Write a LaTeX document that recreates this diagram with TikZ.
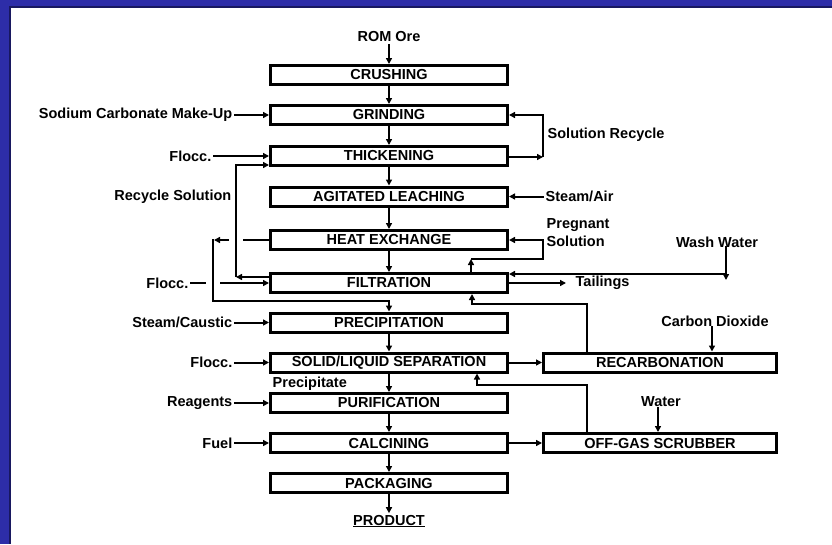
\documentclass[tikz,border=0pt]{standalone}
\usepackage{fontspec}
\setmainfont{Liberation Sans}
\usetikzlibrary{arrows.meta}
\definecolor{frameblue}{RGB}{45,45,168}
\definecolor{framedark}{RGB}{24,24,96}
\begin{document}
\begin{tikzpicture}[x=1pt,y=-1pt,
    stepbox/.style={draw,line width=3pt,minimum width=237pt,minimum height=19pt,inner sep=0pt,font=\fontsize{14.5}{16}\selectfont\bfseries},
    lbl/.style={inner sep=1.5pt,font=\fontsize{14.5}{18}\selectfont\bfseries},
    flow/.style={line width=2pt,-{Triangle[length=6pt,width=6pt]}},
    pipe/.style={line width=2pt}]
      \useasboundingbox (0,0) rectangle (832,544);
      \fill[frameblue] (0,0) rectangle (832,8); \fill[frameblue] (0,0) rectangle (11,544);
      \fill[framedark] (9,6) rectangle (832,8); \fill[framedark] (9,6) rectangle (11,544);

      \node[lbl] (rom) at (389,37) {ROM Ore};
      \node[stepbox] (crush) at (389,75) {CRUSHING};
      \node[stepbox] (grind) at (389,115) {GRINDING};
      \node[stepbox] (thick) at (389,156) {THICKENING};
      \node[stepbox] (leach) at (389,196.5) {AGITATED LEACHING};
      \node[stepbox] (heat) at (389,240) {HEAT EXCHANGE};
      \node[stepbox] (filt) at (389,283) {FILTRATION};
      \node[stepbox] (precip) at (389,322.5) {PRECIPITATION};
      \node[stepbox] (sep) at (389,362.5) {SOLID/LIQUID SEPARATION};
      \node[stepbox] (purif) at (389,403) {PURIFICATION};
      \node[stepbox] (calc) at (389,443) {CALCINING};
      \node[stepbox] (pack) at (389,483) {PACKAGING};
      \node[lbl] (product) at (389,521) {\underline{PRODUCT}};
      \node[stepbox,minimum width=233pt] (recarb) at (660,362.5) {RECARBONATION};
      \node[stepbox,minimum width=233pt] (scrub) at (660,443) {OFF-GAS SCRUBBER};

      \foreach \a/\b in {rom/crush,crush/grind,grind/thick,thick/leach,leach/heat,heat/filt,precip/sep,sep/purif,purif/calc,calc/pack,pack/product}
        \draw[flow] (\a) -- (\b);

      % feeds from the left
      \node[lbl,anchor=east] (soda) at (234,115) {Sodium Carbonate Make-Up};
      \node[lbl,anchor=east] (flocca) at (213,156) {Flocc.};
      \node[lbl,anchor=east] (recsol) at (233,197) {Recycle Solution};
      \node[lbl,anchor=east] (floccb) at (190,283) {Flocc.};
      \node[lbl,anchor=east] (caustic) at (234,322.5) {Steam/Caustic};
      \node[lbl,anchor=east] (floccc) at (234,362.5) {Flocc.};
      \node[lbl,anchor=west] (ppt) at (271,384) {Precipitate};
      \node[lbl,anchor=east] (reagents) at (234,403) {Reagents};
      \node[lbl,anchor=east] (fuel) at (234,443) {Fuel};
      \foreach \a/\b in {soda/grind,flocca/thick,caustic/precip,floccc/sep,reagents/purif,fuel/calc}
        \draw[flow] (\a) -- (\b);
      \draw[pipe] (floccb.east) -- (206,283);
      \draw[flow] (220,283) -- (filt.west);

      \coordinate (rl1) at (236,277); \coordinate (rl2) at (236,165);
      \draw[flow] (filt.west |- rl1) -- (rl1);
      \draw[flow] (rl1) -- (rl2) -- (thick.west |- rl2);

      \coordinate (hl1) at (214,240); \coordinate (hl2) at (213,301);
      \draw[pipe] (heat.west) -- (243,240);
      \draw[flow] (229,240) -- (hl1);
      \draw[flow] (213,239) -- (hl2) -- (precip.north |- hl2) -- (precip.north);

      % feeds from the right
      \node[lbl,anchor=west] (solrec) at (546,135) {Solution Recycle};
      \coordinate (sr1) at (543,157); \coordinate (sr2) at (543,115);
      \draw[flow] (thick.east |- sr1) -- (sr1);
      \draw[flow] (sr1) -- (sr2) -- (grind.east);

      \node[lbl,anchor=west] (steam) at (544,196.5) {Steam/Air};
      \draw[flow] (steam) -- (leach);

      \node[lbl,anchor=west,align=left] (preg) at (545,233) {Pregnant\\Solution};
      \coordinate (pg1) at (471,259); \coordinate (pg2) at (543,259);
      \draw[flow] (filt.north -| pg1) -- (pg1);
      \draw[flow] (pg1) -- (pg2) -- (heat.east -| pg2) -- (heat.east);

      \node[lbl] (wash) at (717,242) {Wash Water};
      \coordinate (ww1) at (726,274);
      \draw[flow] ([yshift=3pt]wash.south -| ww1) -- ([yshift=-6pt]ww1);
      \draw[flow] (ww1) -- (filt.east |- ww1);

      \node[lbl,anchor=west] (tail) at (574,283) {Tailings};
      \draw[flow,shorten >=8pt] (filt) -- (tail);

      \node[lbl] (co2) at (715,321) {Carbon Dioxide};
      \draw[flow] ([xshift=-3pt,yshift=2pt]co2.south) -- ([xshift=-3pt]co2.south |- recarb.north);
      \draw[flow] (sep) -- (recarb);
      \coordinate (rc1) at (587,304); \coordinate (rc2) at (472,304);
      \draw[flow] (recarb.north -| rc1) -- (rc1) -- (rc2) -- (filt.south -| rc2);

      \node[lbl] (water) at (661,402) {Water};
      \draw[flow] ([xshift=-3pt,yshift=2pt]water.south) -- ([xshift=-3pt]water.south |- scrub.north);
      \draw[flow] (calc) -- (scrub);
      \coordinate (sc1) at (587,385); \coordinate (sc2) at (477,385);
      \draw[flow] (scrub.north -| sc1) -- (sc1) -- (sc2) -- (sep.south -| sc2);
    \end{tikzpicture}
\end{document}
